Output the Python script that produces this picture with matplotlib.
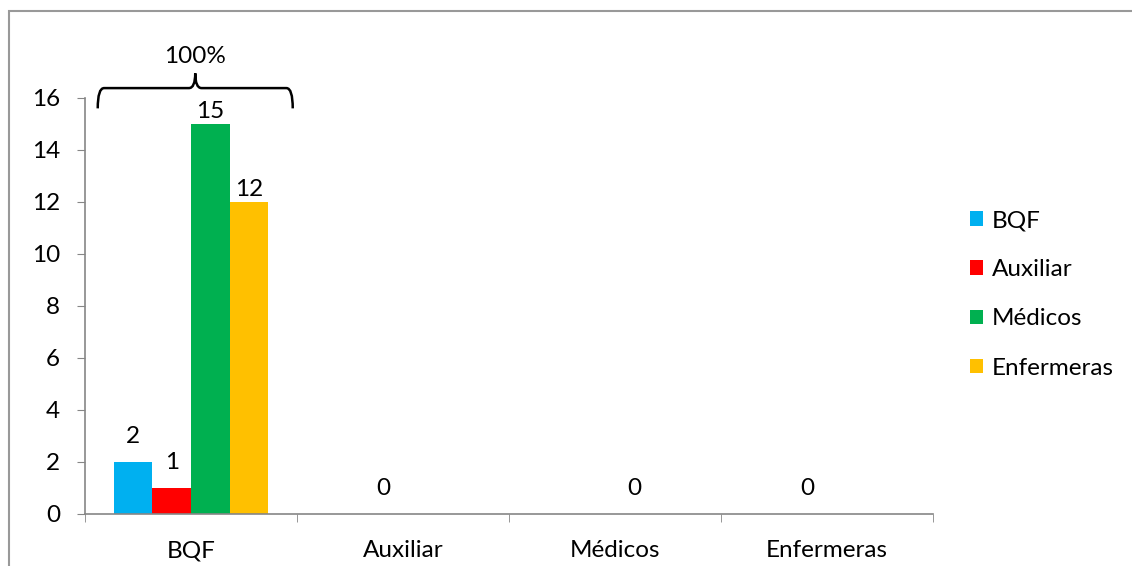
import numpy as np
import matplotlib.pyplot as plt
from matplotlib.path import Path
from matplotlib.patches import PathPatch, Rectangle

plt.rcParams['font.family'] = ['Lato', 'DejaVu Sans']

categories = ['BQF', 'Auxiliar', 'Médicos', 'Enfermeras']
series_names = ['BQF', 'Auxiliar', 'Médicos', 'Enfermeras']
bqf = [2, np.nan, np.nan, np.nan]
auxiliar = [1, 0, np.nan, 0]
medicos = [15, np.nan, 0, np.nan]
enfermeras = [12, np.nan, np.nan, np.nan]
colors = ['#00B0F0', '#FF0000', '#00B050', '#FFC000']

series = [bqf, auxiliar, medicos, enfermeras]
fs = 17.5

fig = plt.figure(figsize=(11.32, 5.66), dpi=100)
ax = fig.add_axes([0.0751, 0.0919, 0.749, 0.735])

x = np.arange(len(categories))
width = 0.182
grey = '#868686'

for i, (vals, name, col) in enumerate(zip(series, series_names, colors)):
    pos = x + (i - 1.5) * width
    ax.bar(pos, vals, width, color=col, label=name)
    for xp, v in zip(pos, vals):
        if not np.isnan(v):
            # tall bars get their label tucked close to the top
            off = 1.5 if v > 8 else 11
            ax.annotate(f'{v:g}', (xp, v), xytext=(0, off), textcoords='offset points',
                        ha='center', va='bottom', fontsize=fs)

ax.set_xlim(-0.5, 3.5)
ax.set_ylim(0, 16)
ax.set_yticks(range(0, 17, 2))
ax.tick_params(axis='y', labelsize=fs, length=6, color=grey, pad=12)

ax.set_xticks(x)
ax.set_xticklabels(categories)
ax.set_xticks(np.arange(-0.5, 4, 1), minor=True)
ax.tick_params(axis='x', which='major', length=0, labelsize=fs, pad=19)
ax.tick_params(axis='x', which='minor', length=6, color=grey)

for s in ['top', 'right']:
    ax.spines[s].set_visible(False)
for s in ['left', 'bottom']:
    ax.spines[s].set_color(grey)
    ax.spines[s].set_linewidth(1.2)

# curly brace over the first group
x0, x1 = -0.44, 0.48
xc = (x0 + x1) / 2
yb, yt, yp = 15.6, 16.38, 16.95
r = 0.03
verts = [(x0, yb), (x0, yt), (x0 + r, yt),
         (xc - r, yt), (xc, yt), (xc, yp),
         (xc, yt), (xc + r, yt),
         (x1 - r, yt), (x1, yt), (x1, yb)]
codes = [Path.MOVETO, Path.CURVE3, Path.CURVE3,
         Path.LINETO, Path.CURVE3, Path.CURVE3,
         Path.CURVE3, Path.CURVE3,
         Path.LINETO, Path.CURVE3, Path.CURVE3]
ax.add_patch(PathPatch(Path(verts, codes), fill=False, lw=1.8, color='black', clip_on=False))
ax.text(xc, 17.2, '100%', ha='center', va='bottom', fontsize=fs)

ax.legend(loc='center left', bbox_to_anchor=(1.032, 0.528), frameon=False, fontsize=fs,
          handlelength=0.55, handleheight=0.55, handletextpad=0.35, labelspacing=1.16,
          borderaxespad=0)

fig.patches.append(Rectangle((9 / 1132, -0.1), 1.2, 1 - 11 / 566 + 0.1, transform=fig.transFigure,
                             fill=False, edgecolor='#999999', lw=1.5))

fig.savefig('out.png', dpi=100)
